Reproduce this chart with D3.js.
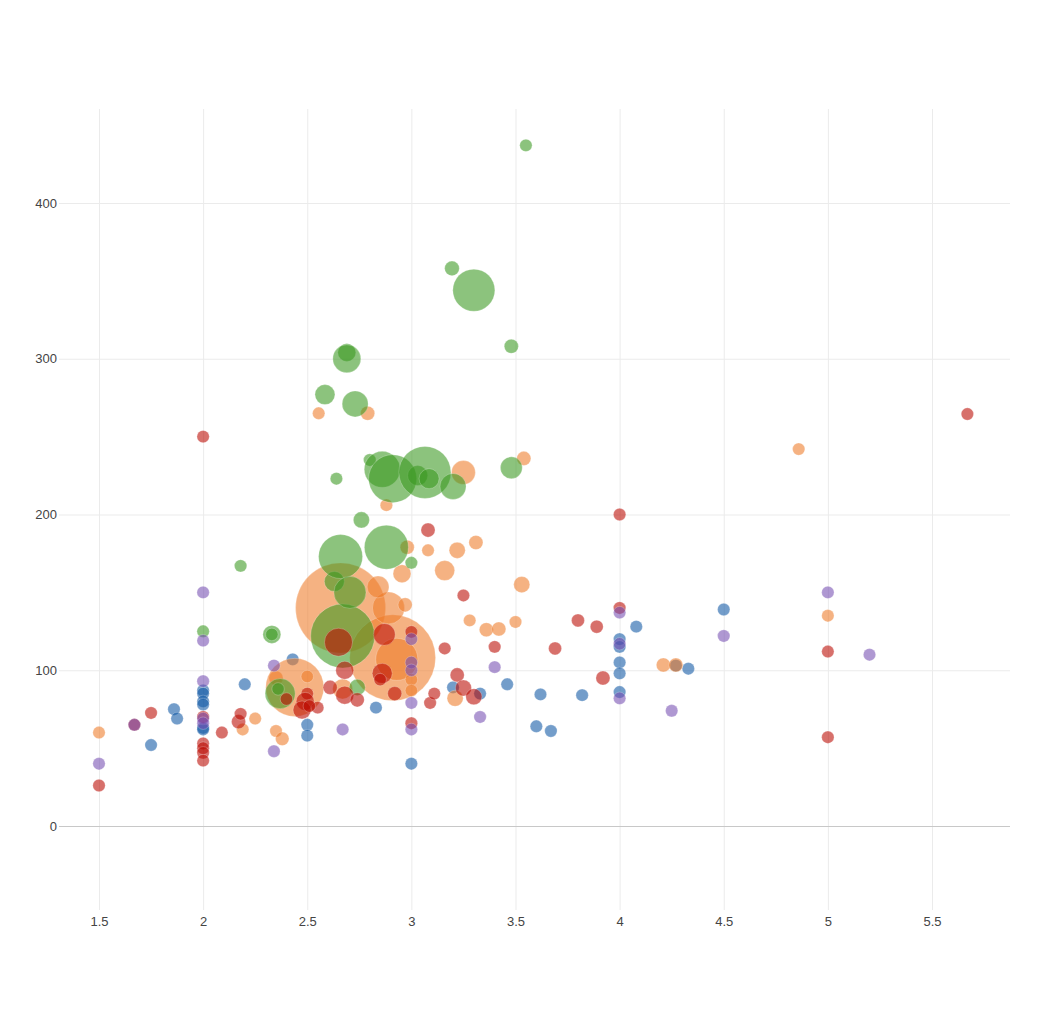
<!DOCTYPE html>
<html>
<head>
<meta charset="utf-8">
<script src="https://cdn.jsdelivr.net/npm/d3@7"></script>
<style>
  html, body { margin: 0; padding: 0; background: #fff; }
  svg { display: block; }
  .tick text { font-family: "Liberation Sans", Arial, Helvetica, sans-serif; font-size: 13px; fill: #444; }
</style>
</head>
<body>
<div id="chart"></div>
<script>
// series order = draw order
const seriesNames = ["blue", "orange", "green", "red", "purple"];
const seriesColors = ["#0e56a4", "#ee7a28", "#39971f", "#ba0800", "#754db1"];

// each point: [x, y, size]
const blue = [
  [1.75, 52, 1], [1.86, 75, 1], [1.875, 69, 1], [2, 87, 1], [2, 85, 1], [2, 80, 1], [2, 78, 1],
  [2, 63, 1], [2, 62, 1], [2.2, 91, 1], [2.43, 107, 1], [2.5, 65, 1], [2.5, 58, 1], [2.83, 76, 1],
  [3, 40, 1], [3.2, 89, 1], [3.33, 85, 1], [3.46, 91, 1], [3.6, 64, 1], [3.62, 84.5, 1], [3.67, 61, 1],
  [3.82, 84, 1], [4, 120, 1], [4, 115, 1], [4, 105, 1], [4, 98, 1], [4, 86, 1], [4.08, 128, 1],
  [4.27, 103, 1], [4.33, 101, 1], [4.5, 139, 1]
];
const orange = [
  [1.5, 60, 1], [2.19, 62, 1], [2.25, 69, 1], [2.35, 61, 1], [2.38, 56, 1.2], [2.35, 95, 1.3],
  [2.44, 89, 21.9], [2.5, 96, 1], [2.555, 265, 1], [2.79, 265, 1.3], [2.88, 206, 1],
  [2.66, 140, 52.7], [2.91, 108, 48], [2.93, 107, 11.5], [2.89, 140, 6.7], [2.84, 153.5, 3.1],
  [2.97, 142, 1.3], [2.955, 162, 2.1], [2.98, 179, 1.3], [3.08, 177, 1], [3.16, 164, 2.6],
  [3.22, 177, 1.7], [3.31, 182, 1.3], [3.25, 227, 3.7], [3.54, 236, 1.3], [3.53, 155, 1.7],
  [3.28, 132, 1], [3.36, 126, 1.3], [3.42, 126.5, 1.3], [3.5, 131, 1], [3.21, 82, 1.7],
  [2.67, 88, 2.6], [3, 94, 1], [3, 87, 1], [4.21, 103.4, 1.3], [4.27, 103.4, 1.3],
  [4.86, 242, 1], [5, 135, 1]
];
const green = [
  [2, 125, 1], [2.18, 167, 1], [2.33, 123, 2.1], [2.33, 123, 1], [2.37, 85, 5.9], [2.36, 88, 1],
  [2.585, 277, 2.6], [2.64, 223, 1], [2.63, 157, 2.6], [2.66, 173, 12.6], [2.67, 122, 26.6],
  [2.69, 304, 2.1], [2.69, 300, 5.1], [2.705, 150, 6.7], [2.73, 271, 4.4], [2.74, 89, 1.7],
  [2.76, 196.5, 1.7], [2.8, 235, 1], [2.86, 229, 8.4], [2.88, 179, 12.6], [2.91, 223, 15],
  [3, 169, 1], [3.03, 225, 2.6], [3.065, 227, 17.6], [3.085, 223, 2.6], [3.195, 358, 1.4],
  [3.2, 218, 4.4], [3.3, 344, 11.5], [3.48, 308, 1.3], [3.48, 230, 3.1], [3.55, 437, 1]
];
const red = [
  [1.5, 26, 1], [1.67, 65, 1], [1.75, 72.6, 1], [2, 250, 1], [2, 70, 1], [2, 53, 1], [2, 50, 1],
  [2, 47, 1], [2, 42, 1], [2.09, 60, 1], [2.17, 67, 1.3], [2.18, 72, 1], [2.4, 81.5, 1], [2.5, 85, 1],
  [2.49, 80, 2.1], [2.475, 74.5, 2.1], [2.55, 76, 1], [2.51, 77, 1], [2.61, 89, 1.3], [2.65, 118, 5.1],
  [2.68, 100, 2.1], [2.68, 84, 2.1], [2.74, 81, 1.3], [2.86, 98, 2.6], [2.85, 94, 1], [2.87, 123, 3.1],
  [2.92, 85, 1.3], [3, 124.6, 1], [3, 66, 1], [3.08, 190, 1.3], [3.09, 79, 1], [3.11, 85, 1],
  [3.16, 114, 1], [3.22, 97, 1.3], [3.25, 88.6, 1.7], [3.3, 83, 1.7], [3.25, 148, 1], [3.4, 115, 1],
  [3.69, 114, 1.1], [3.8, 132, 1.1], [3.89, 128, 1.1], [3.92, 95, 1.3], [4, 140, 1], [4, 200, 1],
  [5, 112, 1], [5, 57, 1], [5.67, 264.5, 1]
];
const purple = [
  [1.5, 40, 1], [1.67, 65, 1], [2, 150, 1], [2, 119, 1], [2, 93, 1], [2, 69, 1], [2, 66, 1],
  [2.34, 103, 1], [2.34, 48, 1], [2.67, 62, 1], [3, 120, 1], [3, 105, 1], [3, 100, 1], [3, 79, 1],
  [3, 62, 1], [3.33, 70, 1], [3.4, 102, 1], [4, 137, 1], [4, 117, 1], [4, 82, 1], [4.25, 74, 1],
  [4.5, 122, 1], [5, 150, 1], [5.2, 110, 1]
];

const xTicks = [1.5, 2, 2.5, 3, 3.5, 4, 4.5, 5, 5.5];
const yTicks = [0, 100, 200, 300, 400];

const series = [blue, orange, green, red, purple];

const width = 1060;
const height = 1024;
const plot = {left: 59, right: 1010, top: 109, bottom: 910};

const svg = d3.select("#chart")
  .append("svg")
  .attr("width", width)
  .attr("height", height);

const x_scale = d3.scaleLinear()
  .domain([1.3079, 5.8746])
  .range([plot.left, plot.right]);

const y_scale = d3.scaleLinear()
  .domain([-53.93, 460.35])
  .range([plot.bottom, plot.top]);

const r_scale = d3.scaleSqrt()
  .domain([0, 1])
  .range([0, 6.2]);

// vertical grid + x labels
const x_axis = d3.axisBottom(x_scale)
  .tickValues(xTicks)
  .tickFormat(d3.format("~g"))
  .tickSize(-(plot.bottom - plot.top))
  .tickPadding(7);

svg.append("g")
  .attr("transform", "translate(0," + plot.bottom + ")")
  .call(x_axis)
  .call(g => g.select(".domain").remove())
  .call(g => g.selectAll(".tick line").attr("stroke", "#ebebeb"));

// horizontal grid + y labels
const y_axis = d3.axisLeft(y_scale)
  .tickValues(yTicks)
  .tickSize(-(plot.right - plot.left))
  .tickPadding(2);

svg.append("g")
  .attr("transform", "translate(" + plot.left + ",0)")
  .call(y_axis)
  .call(g => g.select(".domain").remove())
  .call(g => g.selectAll(".tick line")
    .attr("stroke", d => d === 0 ? "#c8c8c8" : "#ebebeb"));

// bubbles
const marks = svg.append("g");
series.forEach(function (data, i) {
  marks.append("g")
    .attr("class", seriesNames[i])
    .selectAll("circle")
    .data(data)
    .enter()
    .append("circle")
    .attr("cx", d => x_scale(d[0]))
    .attr("cy", d => y_scale(d[1]))
    .attr("r", d => r_scale(d[2]))
    .attr("fill", seriesColors[i])
    .attr("fill-opacity", 0.58)
    .attr("stroke", "#fff")
    .attr("stroke-opacity", 0.3)
    .attr("stroke-width", 0.8);
});
</script>
</body>
</html>
